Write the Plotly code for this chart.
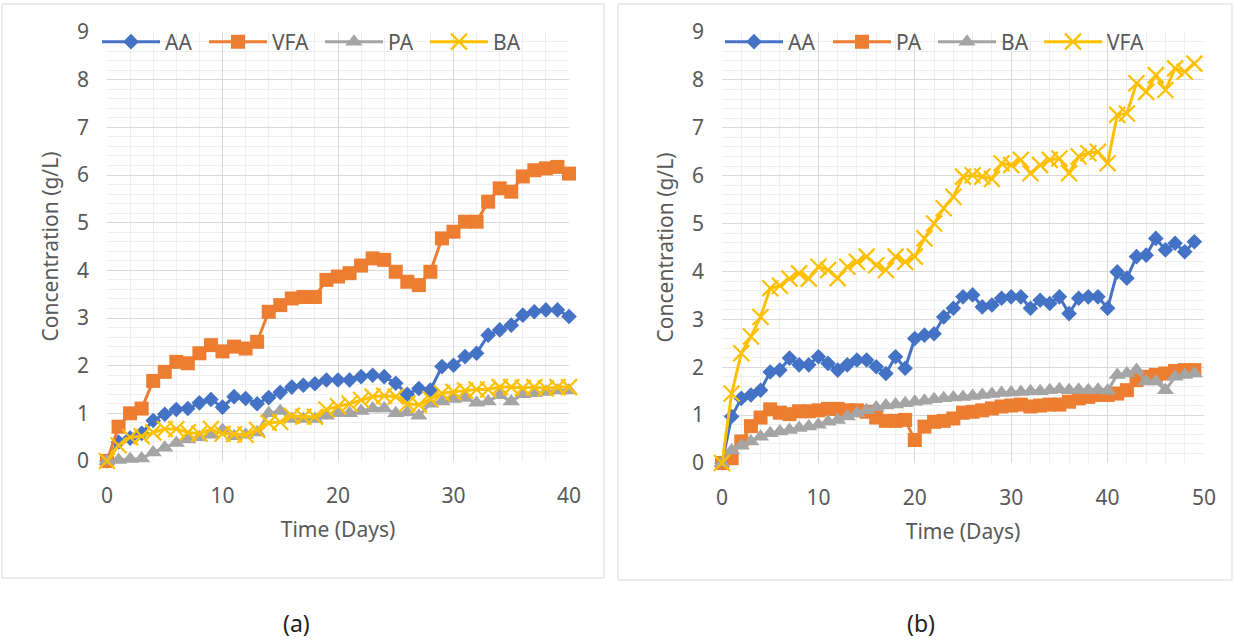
import plotly.graph_objects as go

# ---------------- data ----------------
days_a = list(range(41))
aa_a = [0, 0.4, 0.48, 0.58, 0.85, 0.98, 1.08, 1.1, 1.22, 1.29, 1.13, 1.35, 1.31, 1.2, 1.33, 1.44, 1.55, 1.59,
        1.62, 1.7, 1.7, 1.7, 1.77, 1.8, 1.77, 1.63, 1.4, 1.52, 1.49, 1.98, 2.01, 2.19, 2.26, 2.64, 2.75, 2.85,
        3.06, 3.13, 3.17, 3.17, 3.03]
vfa_a = [0, 0.72, 1.0, 1.1, 1.68, 1.87, 2.08, 2.05, 2.26, 2.43, 2.3, 2.4, 2.36, 2.5, 3.13, 3.27, 3.41, 3.44,
         3.44, 3.8, 3.87, 3.94, 4.1, 4.25, 4.22, 3.97, 3.76, 3.69, 3.97, 4.67, 4.81, 5.02, 5.02, 5.44, 5.72,
         5.65, 5.97, 6.1, 6.14, 6.17, 6.03]
pa_a = [0, 0.02, 0.04, 0.05, 0.18, 0.28, 0.38, 0.45, 0.5, 0.55, 0.65, 0.52, 0.55, 0.6, 1.0, 1.05, 0.88, 0.88,
        0.88, 0.95, 1.0, 1.0, 1.05, 1.1, 1.1, 1.0, 1.02, 0.95, 1.2, 1.25, 1.3, 1.32, 1.22, 1.25, 1.38, 1.25,
        1.4, 1.42, 1.45, 1.48, 1.48]
ba_a = [0, 0.33, 0.5, 0.52, 0.6, 0.67, 0.67, 0.6, 0.57, 0.67, 0.57, 0.56, 0.55, 0.65, 0.8, 0.82, 0.95, 0.93,
        0.93, 1.08, 1.15, 1.2, 1.28, 1.35, 1.37, 1.35, 1.2, 1.18, 1.3, 1.42, 1.45, 1.48, 1.5, 1.5, 1.55, 1.55,
        1.53, 1.55, 1.52, 1.55, 1.55]

days_b = list(range(50))
aa_b = [0, 0.97, 1.35, 1.42, 1.52, 1.9, 1.94, 2.19, 2.05, 2.05, 2.22, 2.08, 1.94, 2.05, 2.15, 2.15, 2.01, 1.87,
        2.22, 1.98, 2.6, 2.67, 2.7, 3.05, 3.23, 3.47, 3.51, 3.26, 3.3, 3.44, 3.47, 3.47, 3.23, 3.4, 3.33, 3.47,
        3.12, 3.44, 3.47, 3.47, 3.23, 3.99, 3.86, 4.31, 4.34, 4.69, 4.45, 4.59, 4.41, 4.62]
pa_b = [0, 0.1, 0.45, 0.77, 0.95, 1.12, 1.05, 1.02, 1.08, 1.08, 1.1, 1.13, 1.13, 1.1, 1.1, 1.07, 0.95, 0.88,
        0.88, 0.9, 0.48, 0.76, 0.86, 0.88, 0.93, 1.05, 1.07, 1.1, 1.14, 1.18, 1.2, 1.22, 1.18, 1.2, 1.22, 1.22,
        1.28, 1.35, 1.38, 1.42, 1.42, 1.45, 1.52, 1.73, 1.8, 1.84, 1.87, 1.92, 1.94, 1.94]
ba_b = [0, 0.26, 0.36, 0.45, 0.55, 0.62, 0.66, 0.69, 0.73, 0.76, 0.8, 0.86, 0.9, 0.97, 1.04, 1.1, 1.16, 1.2,
        1.22, 1.25, 1.28, 1.3, 1.33, 1.35, 1.37, 1.38, 1.4, 1.42, 1.44, 1.46, 1.47, 1.48, 1.5, 1.5, 1.52, 1.54,
        1.52, 1.53, 1.52, 1.53, 1.51, 1.84, 1.87, 1.94, 1.7, 1.7, 1.52, 1.8, 1.84, 1.87]
vfa_b = [0, 1.45, 2.29, 2.64, 3.05, 3.65, 3.7, 3.85, 3.96, 3.85, 4.1, 4.03, 3.86, 4.1, 4.2, 4.31, 4.13, 4.03,
         4.31, 4.2, 4.31, 4.69, 5.0, 5.32, 5.56, 5.98, 6.01, 5.98, 5.93, 6.26, 6.22, 6.33, 6.05, 6.22, 6.33,
         6.36, 6.05, 6.4, 6.47, 6.5, 6.26, 7.27, 7.3, 7.93, 7.75, 8.1, 7.79, 8.24, 8.17, 8.34]

panel_labels = ["(a)", "(b)"]
x_title = "Time (Days)"
y_title = "Concentration (g/L)"

# ---------------- styles ----------------
W, H = 1234, 640
FONT = "Noto Sans"
TXT = "#595959"
BLUE, ORANGE, GRAY, YELLOW = "#4472C4", "#ED7D31", "#A5A5A5", "#FFC000"
ITEMW = 58

styles = [
    dict(color=BLUE, symbol="diamond", size=12),
    dict(color=ORANGE, symbol="square", size=14),
    dict(color=GRAY, symbol="triangle-up", size=15),
    dict(color=YELLOW, symbol="x-thin", size=16),
]
# legend entry pitch (px) in the reference, per entry
pitch_left = [107, 116, 105, None]
pitch_right = [108, 105, 106, None]


def make_trace(x, y, name, st, xa, ya, legend, pitch):
    marker = dict(symbol=st["symbol"], size=st["size"], color=st["color"])
    if st["symbol"] == "x-thin":
        marker["line"] = dict(color=st["color"], width=2.2)
    else:
        marker["line"] = dict(width=0)
    kw = {}
    if pitch is not None:
        kw["legendwidth"] = pitch - ITEMW - 15
    return go.Scatter(x=x, y=y, name=name, mode="lines+markers", xaxis=xa, yaxis=ya,
                      line=dict(color=st["color"], width=3), marker=marker,
                      legend=legend, cliponaxis=False, **kw)


fig = go.Figure()
left_series = [("AA", aa_a), ("VFA", vfa_a), ("PA", pa_a), ("BA", ba_a)]
right_series = [("AA", aa_b), ("PA", pa_b), ("BA", ba_b), ("VFA", vfa_b)]
for (name, vals), st, p in zip(left_series, styles, pitch_left):
    fig.add_trace(make_trace(days_a, vals, name, st, "x", "y", "legend", p))
for (name, vals), st, p in zip(right_series, styles, pitch_right):
    fig.add_trace(make_trace(days_b, vals, name, st, "x2", "y2", "legend2", p))


def px_x(p):
    return p / W


def px_y(p):
    return 1 - p / H


def xaxis(domain, rng, anchor):
    return dict(domain=domain, range=rng, anchor=anchor, dtick=10, showgrid=True, automargin=False,
                gridcolor="#D9D9D9", gridwidth=1, zeroline=False, showline=False, ticks="",
                minor=dict(dtick=2, showgrid=True, gridcolor="#EFEFEF", gridwidth=1),
                tickfont=dict(family=FONT, size=21, color=TXT), ticklabelstandoff=20,
                title=dict(text=x_title, font=dict(family=FONT, size=21, color=TXT), standoff=14),
                fixedrange=True)


def yaxis(domain, anchor):
    return dict(domain=domain, range=[0, 9], anchor=anchor, dtick=1, showgrid=True, automargin=False,
                gridcolor="#D9D9D9", gridwidth=1, zeroline=False, showline=False, ticks="",
                minor=dict(dtick=0.2, showgrid=True, gridcolor="#EFEFEF", gridwidth=1),
                tickfont=dict(family=FONT, size=21, color=TXT), ticklabelstandoff=17,
                title=dict(text=y_title, font=dict(family=FONT, size=21, color=TXT), standoff=12),
                fixedrange=True)


legend_common = dict(orientation="h", bgcolor="rgba(0,0,0,0)", borderwidth=0,
                     font=dict(family=FONT, size=21, color=TXT), itemwidth=ITEMW,
                     xanchor="left", yanchor="middle", y=px_y(42), tracegroupgap=0)

fig.update_layout(
    width=W, height=H, margin=dict(l=0, r=0, t=0, b=0, autoexpand=False),
    paper_bgcolor="white", plot_bgcolor="white", showlegend=True,
    xaxis=xaxis([px_x(107), px_x(569)], [0, 40], "y"),
    yaxis=yaxis([px_y(461), px_y(32)], "x"),
    xaxis2=xaxis([px_x(722), px_x(1204)], [0, 50], "y2"),
    yaxis2=yaxis([px_y(463), px_y(32)], "x2"),
    legend=dict(legend_common, x=px_x(97)),
    legend2=dict(legend_common, x=px_x(720)),
    shapes=[
        dict(type="rect", xref="paper", yref="paper", x0=px_x(2), x1=px_x(604), y0=px_y(578), y1=px_y(4),
             line=dict(color="#D9D9D9", width=1), layer="below"),
        dict(type="rect", xref="paper", yref="paper", x0=px_x(618), x1=px_x(1232), y0=px_y(580), y1=px_y(4),
             line=dict(color="#D9D9D9", width=1), layer="below"),
    ],
    annotations=[
        dict(text=panel_labels[0], xref="paper", yref="paper", x=px_x(296), y=px_y(623), showarrow=False,
             font=dict(family=FONT, size=23, color="#222222"), xanchor="center", yanchor="middle"),
        dict(text=panel_labels[1], xref="paper", yref="paper", x=px_x(921), y=px_y(623), showarrow=False,
             font=dict(family=FONT, size=23, color="#222222"), xanchor="center", yanchor="middle"),
    ],
)

fig.write_html("out.html", config={"displayModeBar": False},
               post_script="document.body.style.margin='0';")
